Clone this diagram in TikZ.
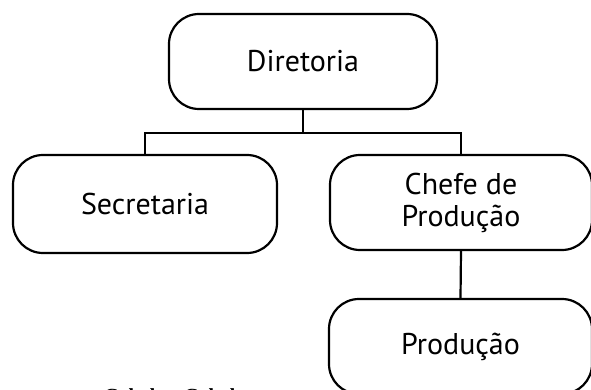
\documentclass[tikz,border=0pt]{standalone}
\usepackage{fontspec}
\setmainfont{PT Sans}
\newfontfamily\srcfont{Liberation Serif}
\begin{document}
\begin{tikzpicture}[x=1pt,y=-1pt,
  orgbox/.style={draw=black,line width=2.2pt,rounded corners=30pt,align=center,
    inner sep=0pt,font=\fontsize{30}{32}\selectfont},
  link/.style={draw=black,line width=2.2pt}]
\useasboundingbox (0,0) rectangle (591,390);
\begin{scope}
\clip (0,0) rectangle (591,390);
\node[orgbox,minimum width=268pt,minimum height=95pt] (dir) at (303,61.5) {Diretoria};
\node[orgbox,minimum width=264pt,minimum height=98pt] (sec) at (145,204) {Secretaria};
\node[orgbox,minimum width=262pt,minimum height=95pt] (chefe) at (461,202.5) {Chefe de\\Produção};
\node[orgbox,minimum width=263pt,minimum height=95pt] (prod) at (460.5,346.5) {Produção};
\coordinate (bus) at (303,133);
\draw[link] (dir.south) -- (bus);
\draw[link] (sec.north) |- (bus) -| (chefe.north);
\draw[link] (chefe.south) -- (prod.north);
\node[anchor=north west,inner sep=0pt,font=\srcfont\bfseries\fontsize{20}{22}\selectfont] (src) at (104,388.5) {Calado e Calado};
\end{scope}
\end{tikzpicture}
\end{document}
